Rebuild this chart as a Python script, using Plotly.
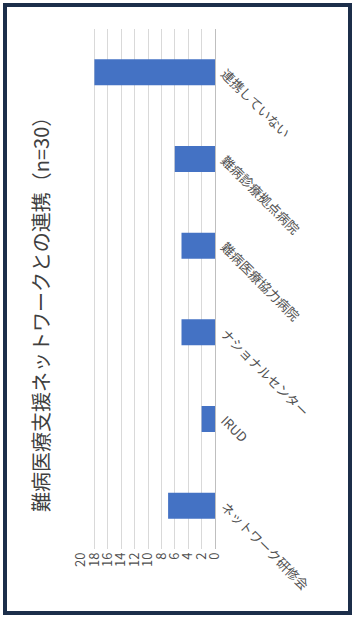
import plotly.graph_objects as go

categories = ["連携していない", "難病診療拠点病院", "難病医療協力病院", "ナショナルセンター", "IRUD", "ネットワーク研修会"]
values = [18, 6, 5, 5, 2, 7]
tick_vals = [0, 2, 4, 6, 8, 10, 12, 14, 16, 18, 20]
title_text = "難病医療支援ネットワークとの連携（n=30）"

FONT = "Noto Sans CJK JP, Noto Sans, sans-serif"

fig = go.Figure()
fig.add_trace(go.Bar(
    y=categories, x=values, orientation="h",
    marker=dict(color="#4472c4", line=dict(width=0)),
    width=0.3,
))

L, R, T, B = 81, 139, 29, 69
W, H = 354, 618
pw, ph = W - L - R, H - T - B

def px(x):
    return (x - L) / pw

def py(y):
    return (H - B - y) / ph

fig.update_layout(
    width=W, height=H,
    margin=dict(l=L, r=R, t=T, b=B, autoexpand=False),
    paper_bgcolor="white", plot_bgcolor="white",
    showlegend=False,
    font=dict(family=FONT, color="#595959"),
    xaxis=dict(
        range=[20, 0], tickvals=tick_vals, ticktext=[str(v) for v in tick_vals],
        tickangle=-90, tickfont=dict(size=13, color="#505050"),
        showgrid=True, gridcolor="#d9d9d9", gridwidth=1,
        zeroline=False, showline=False, ticks="", automargin=False,
    ),
    yaxis=dict(
        categoryorder="array", categoryarray=categories, autorange="reversed",
        side="right", tickangle=45, tickfont=dict(size=13, color="#505050"),
        showline=True, linecolor="#bfbfbf", linewidth=1, ticks="",
        showgrid=False, automargin=False, ticklabelstandoff=6,
    ),
    shapes=[dict(
        type="rect", xref="paper", yref="paper",
        x0=px(5), x1=px(350), y0=py(613), y1=py(5),
        line=dict(color="#1c2e4a", width=4), fillcolor="rgba(0,0,0,0)",
        layer="below",
    )],
    annotations=[dict(
        text=title_text, xref="paper", yref="paper",
        x=px(40), y=py(310), showarrow=False, textangle=-90,
        font=dict(size=20, color="#404040", family=FONT),
        xanchor="center", yanchor="middle",
    )],
)

fig.write_html(
    "out.html",
    config={"displayModeBar": False},
    post_script="document.body.style.margin='0';document.body.style.overflow='hidden';",
)
